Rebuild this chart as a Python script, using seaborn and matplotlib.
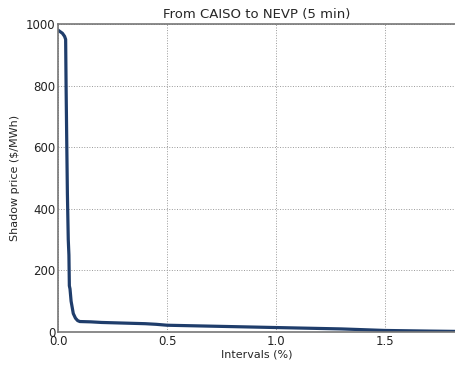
import matplotlib
matplotlib.use("Agg")
import matplotlib.pyplot as plt
import seaborn as sns
import pandas as pd

intervals = [0.0, 0.01, 0.02, 0.03, 0.035, 0.037, 0.04, 0.043, 0.047, 0.05, 0.052, 0.055,
             0.06, 0.07, 0.08, 0.09, 0.1, 0.15, 0.2, 0.3, 0.4, 0.45, 0.5, 0.7, 0.9,
             1.1, 1.3, 1.5, 1.7, 1.82]
price = [980, 975, 970, 960, 950, 800, 620, 450, 300, 250, 150, 140,
         100, 60, 45, 37, 34, 33, 31, 29, 27, 25, 22, 19, 16,
         13, 10, 5, 3, 2]

df = pd.DataFrame({"x": intervals, "y": price})

sns.set_style("white")
plt.rcParams["font.family"] = ["DejaVu Sans"]

fig = plt.figure(figsize=(4.55, 3.68), dpi=100)
ax = fig.add_axes([0.1275, 0.0978, 0.8725, 0.837])
sns.lineplot(data=df, x="x", y="y", ax=ax, color="#1f3d6b", linewidth=2.3)

ax.set_xlim(0, 1.82)
ax.set_ylim(0, 1000)
ax.set_xticks([0.0, 0.5, 1.0, 1.5])
ax.set_xticklabels(["0.0", "0.5", "1.0", "1.5"])
ax.set_yticks([0, 200, 400, 600, 800, 1000])
ax.grid(True, linestyle=":", color="#999999", linewidth=0.7)
for s in ax.spines.values():
    s.set_color("#777777")
    s.set_linewidth(1.2)
ax.spines["right"].set_visible(False)
ax.tick_params(direction="in", length=4, labelsize=8.5, colors="#222222", pad=2)
ax.set_xlabel("Intervals (%)", fontsize=8, labelpad=1)
ax.set_ylabel("Shadow price ($/MWh)", fontsize=8, labelpad=4)
ax.set_title("From CAISO to NEVP (5 min)", fontsize=9.5, pad=4)

fig.savefig("out.png", dpi=100)
